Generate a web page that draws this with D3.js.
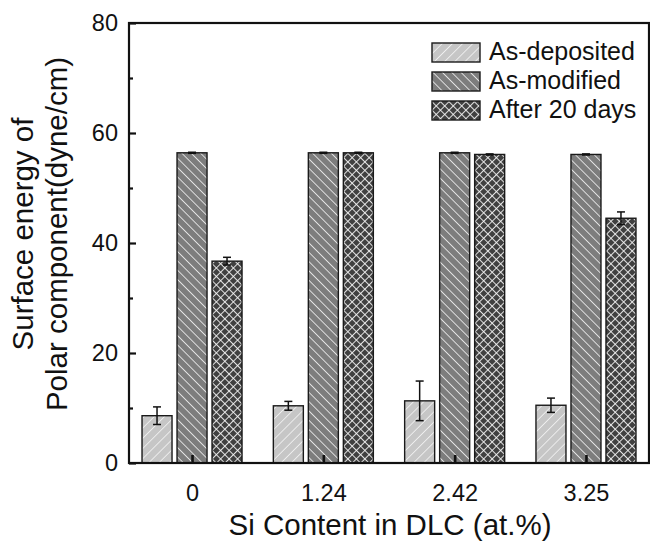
<!DOCTYPE html>
<html>
<head>
<meta charset="utf-8">
<script src="https://cdn.jsdelivr.net/npm/d3@7"></script>
<style>
  body { margin: 0; background: #fff; }
  text { font-family: "Liberation Sans", Arial, sans-serif; fill: #111; }
</style>
</head>
<body>
<script>
// Data
const categories = ["0", "1.24", "2.42", "3.25"];
const seriesNames = ["As-deposited", "As-modified", "After 20 days"];
const asDeposited = [8.6, 10.4, 11.3, 10.5];
const asDepositedErr = [1.6, 0.8, 3.6, 1.3];
const asModified = [56.4, 56.4, 56.4, 56.1];
const asModifiedErr = [0.1, 0.1, 0.1, 0.1];
const after20Days = [36.7, 56.4, 56.1, 44.5];
const after20DaysErr = [0.7, 0.1, 0.1, 1.15];
const yMajorTicks = [0, 20, 40, 60, 80];
const yMinorTicks = [10, 30, 50, 70];

const W = 650, H = 547;
const margin = { top: 23, right: 1, bottom: 84, left: 129 };

const svg = d3.select("body").append("svg")
  .attr("width", W)
  .attr("height", H);

// Hatch patterns
const defs = svg.append("defs");
function hatch(id, bg, size, angle, cross, lw) {
  const p = defs.append("pattern")
    .attr("id", id)
    .attr("patternUnits", "userSpaceOnUse")
    .attr("width", size)
    .attr("height", size)
    .attr("patternTransform", `rotate(${angle})`);
  p.append("rect").attr("width", size).attr("height", size).attr("fill", bg);
  p.append("line")
    .attr("x1", 0).attr("y1", 0).attr("x2", 0).attr("y2", size)
    .attr("stroke", "#f4f4f4").attr("stroke-width", lw);
  if (cross) {
    p.append("line")
      .attr("x1", 0).attr("y1", 0).attr("x2", size).attr("y2", 0)
      .attr("stroke", "#f4f4f4").attr("stroke-width", lw);
  }
}
hatch("pat0", "#c6c6c6", 7.2, 45, false, 1.6);
hatch("pat1", "#7d7d7d", 6.6, -45, false, 1.6);
hatch("pat2", "#404040", 6, 45, true, 1.8);
const fills = ["url(#pat0)", "url(#pat1)", "url(#pat2)"];

const series = [
  { name: seriesNames[0], values: asDeposited, errs: asDepositedErr },
  { name: seriesNames[1], values: asModified, errs: asModifiedErr },
  { name: seriesNames[2], values: after20Days, errs: after20DaysErr }
];

// Scales
const x = d3.scalePoint()
  .domain(categories)
  .range([margin.left, W - margin.right])
  .padding(0.48);

const xSub = d3.scaleBand()
  .domain(d3.range(series.length))
  .range([-52.5, 52.5])
  .paddingInner(1 / 7)
  .paddingOuter(1 / 14);

const y = d3.scaleLinear()
  .domain([0, 80])
  .range([H - margin.bottom, margin.top]);

// Bars
const bars = [];
series.forEach((s, si) => {
  s.values.forEach((v, ci) => {
    bars.push({ si, cat: categories[ci], value: v, err: s.errs[ci] });
  });
});

svg.append("g").selectAll("rect")
  .data(bars)
  .join("rect")
  .attr("x", d => x(d.cat) + xSub(d.si))
  .attr("y", d => y(d.value))
  .attr("width", xSub.bandwidth())
  .attr("height", d => y(0) - y(d.value))
  .attr("fill", d => fills[d.si])
  .attr("stroke", "#1a1a1a")
  .attr("stroke-width", 1.4);

// Error bars
const eb = svg.append("g")
  .attr("stroke", "#111")
  .attr("stroke-width", 1.5);
bars.forEach(d => {
  const cx = x(d.cat) + xSub(d.si) + xSub.bandwidth() / 2;
  const y1 = y(d.value + d.err), y2 = y(d.value - d.err);
  eb.append("line").attr("x1", cx).attr("x2", cx).attr("y1", y1).attr("y2", y2);
  eb.append("line").attr("x1", cx - 4).attr("x2", cx + 4).attr("y1", y1).attr("y2", y1);
  eb.append("line").attr("x1", cx - 4).attr("x2", cx + 4).attr("y1", y2).attr("y2", y2);
});

// Frame
svg.append("rect")
  .attr("x", margin.left)
  .attr("y", margin.top)
  .attr("width", W - margin.right - margin.left)
  .attr("height", y(0) - margin.top)
  .attr("fill", "none")
  .attr("stroke", "#111")
  .attr("stroke-width", 2.2);

// Y axis
const yAxis = svg.append("g")
  .attr("transform", `translate(${margin.left},0)`)
  .call(d3.axisLeft(y).tickValues(yMajorTicks).tickSize(-7).tickPadding(11));
yAxis.select(".domain").remove();
yAxis.selectAll(".tick line").attr("stroke", "#111").attr("stroke-width", 2.2);
yAxis.selectAll(".tick text")
  .style("font-size", "23.5px")
  .attr("fill", "#111");

const yMinor = svg.append("g")
  .attr("transform", `translate(${margin.left},0)`)
  .call(d3.axisLeft(y).tickValues(yMinorTicks).tickSize(-4).tickFormat(""));
yMinor.select(".domain").remove();
yMinor.selectAll(".tick line").attr("stroke", "#111").attr("stroke-width", 2.2);

// X axis
const xAxis = svg.append("g")
  .attr("transform", `translate(0,${y(0)})`)
  .call(d3.axisBottom(x).tickSize(-8).tickPadding(21));
xAxis.select(".domain").remove();
xAxis.selectAll(".tick line").attr("stroke", "#111").attr("stroke-width", 2.6);
xAxis.selectAll(".tick text")
  .style("font-size", "23.5px")
  .attr("fill", "#111");

// Axis titles
svg.append("text")
  .attr("x", 390)
  .attr("y", 535)
  .attr("text-anchor", "middle")
  .style("font-size", "29.5px")
  .text("Si Content in DLC (at.%)");

const yTitle = svg.append("text")
  .attr("transform", "translate(33,234) rotate(-90)")
  .attr("text-anchor", "middle")
  .style("font-size", "29.5px");
yTitle.append("tspan").attr("x", 0).attr("y", 0).text("Surface energy of");
yTitle.append("tspan").attr("x", 0).attr("y", 34).text("Polar component(dyne/cm)");

// Legend
const legend = svg.append("g").attr("transform", "translate(432,43)");
const items = legend.selectAll("g")
  .data(series)
  .join("g")
  .attr("transform", (d, i) => `translate(0,${i * 29})`);
items.append("rect")
  .attr("width", 48)
  .attr("height", 19)
  .attr("fill", (d, i) => fills[i])
  .attr("stroke", "#1a1a1a")
  .attr("stroke-width", 1.4);
items.append("text")
  .attr("x", 57)
  .attr("y", 17)
  .style("font-size", "25px")
  .text(d => d.name);
</script>
</body>
</html>
